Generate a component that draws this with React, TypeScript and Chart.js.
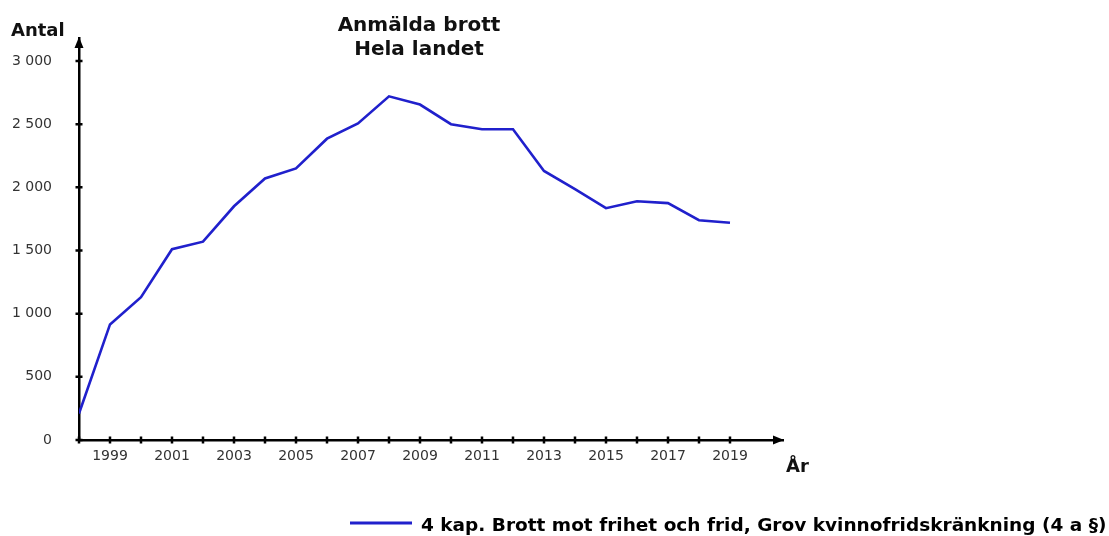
import { useEffect, useRef } from 'react';
import { Chart, registerables } from 'chart.js';

Chart.register(...registerables);

const years = [1998, 1999, 2000, 2001, 2002, 2003, 2004, 2005, 2006, 2007, 2008, 2009, 2010, 2011, 2012, 2013, 2014, 2015, 2016, 2017, 2018, 2019];
const counts = [210, 915, 1130, 1510, 1570, 1850, 2070, 2150, 2385, 2505, 2720, 2655, 2500, 2460, 2460, 2130, 1985, 1835, 1890, 1875, 1740, 1720];
const yTickValues = [0, 500, 1000, 1500, 2000, 2500, 3000];
const titleLines = ['Anmälda brott', 'Hela landet'];
const yAxisTitle = 'Antal';
const xAxisTitle = 'År';
const seriesLabel = '4 kap. Brott mot frihet och frid, Grov kvinnofridskränkning (4 a §)';

const LINE_COLOR = 'rgb(32,32,204)';
const FONT = '"DejaVu Sans", Verdana, sans-serif';

const fmt = (v: number) => String(Math.round(v)).replace(/\B(?=(\d{3})+(?!\d))/g, ' ');

const decorPlugin = {
  id: 'decor',
  afterDraw(chart: any) {
    const ctx = chart.ctx as CanvasRenderingContext2D;
    const xs = chart.scales.x;
    const ys = chart.scales.y;
    const x0 = xs.getPixelForValue(xs.min);
    const xEnd = xs.getPixelForValue(xs.max);
    const y0 = ys.getPixelForValue(0);
    const yTop = ys.getPixelForValue(ys.max);
    ctx.save();
    ctx.strokeStyle = '#000';
    ctx.fillStyle = '#000';
    ctx.lineWidth = 2.5;
    ctx.beginPath();
    yTickValues.forEach((v) => {
      const p = ys.getPixelForValue(v);
      ctx.moveTo(x0 - 3.5, p);
      ctx.lineTo(x0 + 3.5, p);
    });
    years.forEach((yr) => {
      const p = xs.getPixelForValue(yr);
      ctx.moveTo(p, y0 - 3.5);
      ctx.lineTo(p, y0 + 3.5);
    });
    ctx.moveTo(x0 - 3, y0);
    ctx.lineTo(x0, y0);
    ctx.stroke();
    ctx.beginPath();
    ctx.moveTo(x0, yTop - 1);
    ctx.lineTo(x0 - 4.5, yTop + 10);
    ctx.lineTo(x0 + 4.5, yTop + 10);
    ctx.closePath();
    ctx.fill();
    ctx.beginPath();
    ctx.moveTo(xEnd + 1, y0);
    ctx.lineTo(xEnd - 10, y0 - 4.5);
    ctx.lineTo(xEnd - 10, y0 + 4.5);
    ctx.closePath();
    ctx.fill();
    ctx.fillStyle = '#111';
    ctx.font = `bold 20px ${FONT}`;
    ctx.textAlign = 'center';
    ctx.textBaseline = 'alphabetic';
    ctx.fillText(titleLines[0], 419, 31);
    ctx.fillText(titleLines[1], 419, 55);
    ctx.font = `bold 18px ${FONT}`;
    ctx.textAlign = 'left';
    ctx.fillText(yAxisTitle, 11, 36);
    ctx.fillText(xAxisTitle, xEnd + 3, 472);
    const ly = 523;
    ctx.strokeStyle = LINE_COLOR;
    ctx.lineWidth = 3;
    ctx.beginPath();
    ctx.moveTo(350, ly);
    ctx.lineTo(412, ly);
    ctx.stroke();
    ctx.fillStyle = '#000';
    ctx.font = `bold 18.5px ${FONT}`;
    ctx.fillText(seriesLabel, 421, 531);
    ctx.restore();
  },
};

export default function App() {
  const ref = useRef<HTMLCanvasElement | null>(null);
  useEffect(() => {
    if (!ref.current) return;
    const chart = new Chart(ref.current, {
      type: 'line',
      data: {
        datasets: [
          {
            label: seriesLabel,
            data: years.map((y, i) => ({ x: y, y: counts[i] })),
            borderColor: LINE_COLOR,
            backgroundColor: LINE_COLOR,
            borderWidth: 2.6,
            pointRadius: 0,
            tension: 0,
          },
        ],
      },
      options: {
        animation: false,
        responsive: true,
        maintainAspectRatio: false,
        devicePixelRatio: 1,
        layout: { padding: { left: 0, top: 38, right: 326, bottom: 0 } },
        plugins: { legend: { display: false }, title: { display: false }, tooltip: { enabled: false } },
        scales: {
          x: {
            type: 'linear',
            min: 1998,
            max: 2020.71,
            grid: { display: false, drawTicks: false },
            border: { display: true, color: '#000', width: 2.5 },
            ticks: {
              autoSkip: false,
              maxRotation: 0,
              padding: 8,
              color: '#333',
              font: { family: FONT, size: 14 },
              callback: (v: any) => (Number(v) % 2 === 1 ? String(v) : ''),
            },
            afterBuildTicks: (s: any) => {
              s.ticks = years.map((v) => ({ value: v }));
            },
            afterFit: (s: any) => {
              s.height = 96;
            },
          },
          y: {
            min: 0,
            max: 3182,
            grid: { display: false, drawTicks: false },
            border: { display: true, color: '#000', width: 2.5 },
            ticks: {
              padding: 27,
              color: '#333',
              font: { family: FONT, size: 14 },
              callback: (v: any) => fmt(Number(v)),
            },
            afterBuildTicks: (s: any) => {
              s.ticks = yTickValues.map((v) => ({ value: v }));
            },
            afterFit: (s: any) => {
              s.width = 79;
            },
          },
        },
      },
      plugins: [decorPlugin],
    });
    return () => chart.destroy();
  }, []);
  return (
    <div style={{ position: 'fixed', left: 0, top: 0, width: 1109, height: 536, background: '#fff' }}>
      <canvas ref={ref} />
    </div>
  );
}
